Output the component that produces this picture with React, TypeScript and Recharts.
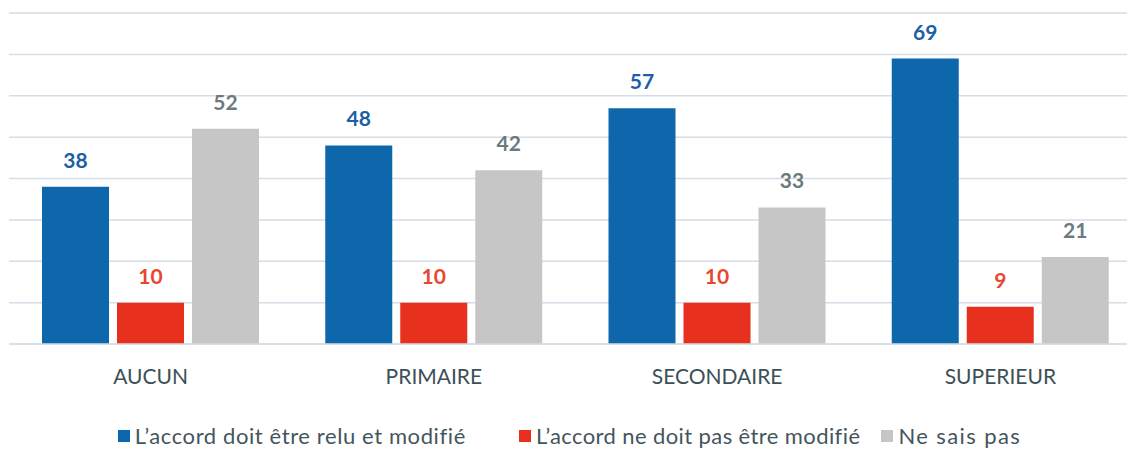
import React from "react";
import { BarChart, Bar, XAxis, YAxis, CartesianGrid, LabelList, Legend } from "recharts";

const categories = ["AUCUN", "PRIMAIRE", "SECONDAIRE", "SUPERIEUR"];
const relu = [38, 48, 57, 69];
const nePas = [10, 10, 10, 9];
const neSais = [52, 42, 33, 21];
const seriesNames = [
  "L\u2019accord doit être relu et modifié",
  "L\u2019accord ne doit pas être modifié",
  "Ne sais pas",
];
const yTicks = [0, 10, 20, 30, 40, 50, 60, 70, 80];

const COLORS = ["#0e67ab", "#e8301f", "#c6c6c6"];
const LABEL_COLORS = ["#1c5fa6", "#e8472e", "#6b7a7f"];
const FONT = "Lato, 'Open Sans', sans-serif";
const LEGEND_GAPS = [53, 21, 0];
const LEGEND_SPACING = [0.6, 0.4, 1.4];

const data = categories.map((c, i) => ({
  cat: c,
  relu: relu[i],
  nePas: nePas[i],
  neSais: neSais[i],
}));

const keys = ["relu", "nePas", "neSais"];

const LegendContent = () => (
  <div
    style={{
      display: "flex",
      justifyContent: "center",
      alignItems: "center",
      fontFamily: FONT,
      fontSize: 22,
      color: "#44555c",
      lineHeight: "22px",
      paddingLeft: 4,
    }}
  >
    {seriesNames.map((n, i) => (
      <div key={n} style={{ display: "flex", alignItems: "center", marginRight: LEGEND_GAPS[i] }}>
        <span
          style={{
            display: "inline-block",
            width: 12,
            height: 12,
            background: COLORS[i],
            marginRight: 5,
          }}
        />
        <span style={{ letterSpacing: LEGEND_SPACING[i] }}>{n}</span>
      </div>
    ))}
  </div>
);

export default function App() {
  return (
    <div style={{ margin: -8, width: 1135, height: 480, overflow: "hidden", background: "#fff", position: "relative" }}>
      <BarChart
        width={1142}
        height={480}
        data={data}
        margin={{ top: 13, right: 0, left: 9, bottom: 96 }}
        barCategoryGap={33}
        barGap={8}
      >
        <CartesianGrid vertical={false} stroke="#d5dde6" strokeWidth={1.5} />
        <YAxis hide domain={[0, 80]} ticks={yTicks} />
        <XAxis
          dataKey="cat"
          axisLine={{ stroke: "#d5dde6", strokeWidth: 1.5 }}
          tickLine={false}
          tickSize={0}
          tickMargin={25}
          height={40}
          tick={{ fill: "#3d4f57", fontSize: 21, fontFamily: FONT }}
        />
        <Legend
          verticalAlign="middle"
          align="center"
          content={<LegendContent />}
          wrapperStyle={{ left: 0, width: 1135, top: 425 }}
        />
        {keys.map((k, i) => (
          <Bar key={k} dataKey={k} name={seriesNames[i]} fill={COLORS[i]} isAnimationActive={false}>
            <LabelList
              dataKey={k}
              position="top"
              offset={19}
              style={{ fill: LABEL_COLORS[i], fontSize: 21, fontWeight: 700, fontFamily: FONT }}
            />
          </Bar>
        ))}
      </BarChart>
    </div>
  );
}
